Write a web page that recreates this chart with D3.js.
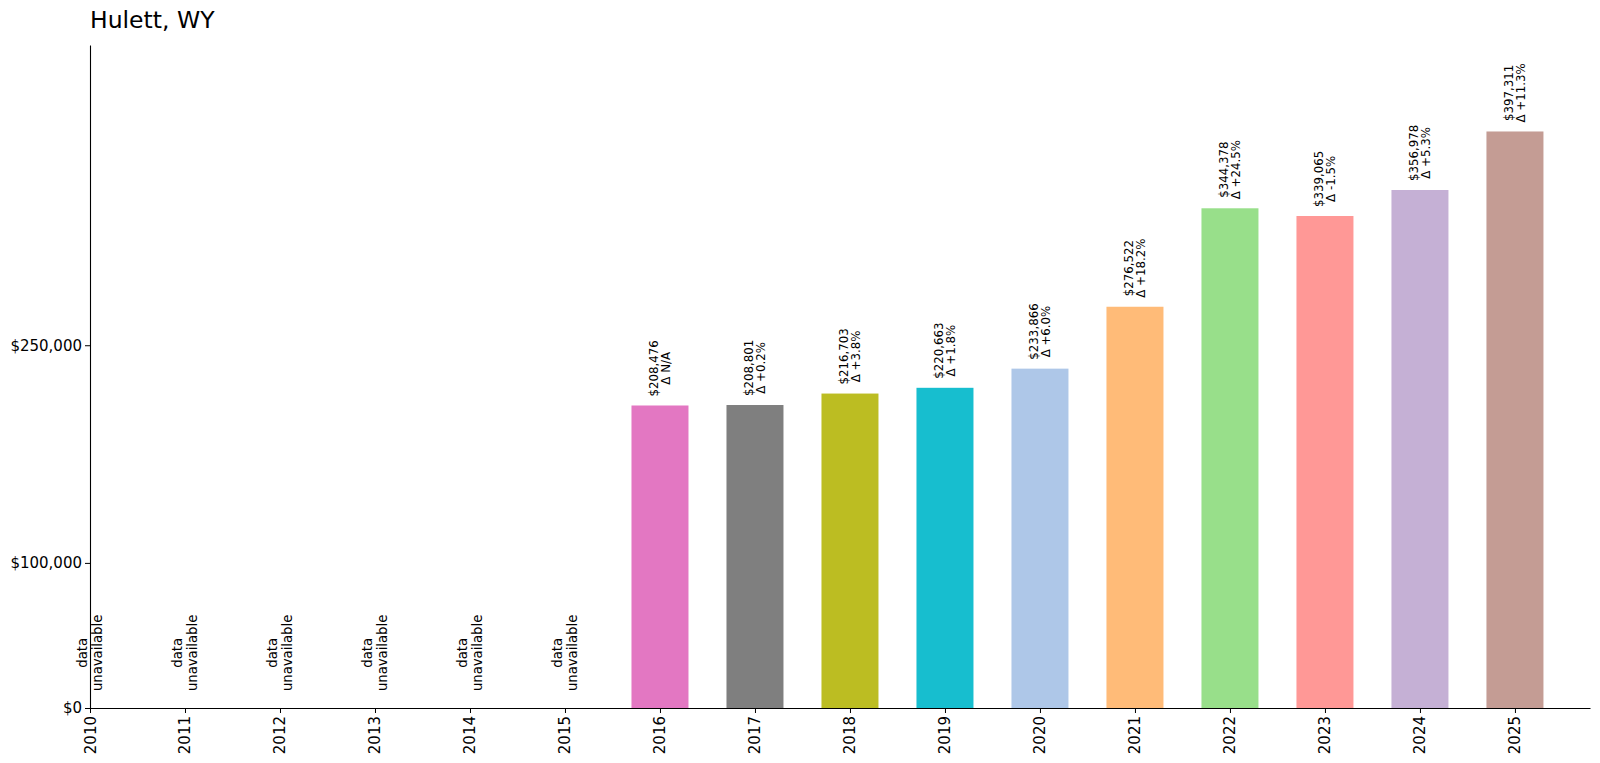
<!DOCTYPE html>
<html>
<head>
<meta charset="utf-8">
<script src="https://cdn.jsdelivr.net/npm/d3@7"></script>
<style>
  body { margin: 0; background: #fff; }
  svg { font-family: "DejaVu Sans", sans-serif; }
</style>
</head>
<body>
<svg id="chart" width="1600" height="763"></svg>
<script>
// values
const years = [2010, 2011, 2012, 2013, 2014, 2015, 2016, 2017, 2018, 2019, 2020, 2021, 2022, 2023, 2024, 2025];
const values = [null, null, null, null, null, null, 208476, 208801, 216703, 220663, 233866, 276522, 344378, 339065, 356978, 397311];
const changes = [null, null, null, null, null, null, "N/A", "+0.2%", "+3.8%", "+1.8%", "+6.0%", "+18.2%", "+24.5%", "-1.5%", "+5.3%", "+11.3%"];
const colors = ["#1f77b4", "#ff7f0e", "#2ca02c", "#d62728", "#9467bd", "#8c564b", "#e377c2", "#7f7f7f",
                "#bcbd22", "#17becf", "#aec7e8", "#ffbb78", "#98df8a", "#ff9896", "#c5b0d5", "#c49c94"];
const yTicks = [0, 100000, 250000];
const title = "Hulett, WY";

const svg = d3.select("#chart");
const margin = { left: 90, right: 10, top: 45, bottom: 55 };
const width = 1600 - margin.left - margin.right;
const height = 763 - margin.top - margin.bottom;

const g = svg.append("g").attr("transform", `translate(${margin.left},${margin.top})`);

const x = d3.scaleLinear().domain([0, 15.79]).range([0, width]);
const y = d3.scaleLinear().domain([0, d3.max(values) * 1.15]).range([height, 0]);
const barW = x(0.6) - x(0);
const fmt = d3.format(",");

// bars
g.selectAll(".bar")
  .data(years.map((yr, i) => ({ i, yr, v: values[i] })).filter(d => d.v != null))
  .enter().append("rect")
  .attr("class", "bar")
  .attr("x", d => x(d.i) - barW / 2)
  .attr("y", d => y(d.v))
  .attr("width", barW)
  .attr("height", d => height - y(d.v))
  .attr("fill", d => colors[d.i]);

// two-line rotated labels, lines centred on each other
function rotLabel(cx, bottom, lines, size, lh) {
  const t = g.append("g");
  const texts = lines.map((s, k) => t.append("text")
    .attr("font-size", size)
    .attr("text-anchor", "middle")
    .attr("dominant-baseline", "central")
    .attr("y", (k - (lines.length - 1) / 2) * lh)
    .text(s));
  const maxLen = d3.max(texts, n => n.node().getComputedTextLength());
  texts.forEach(n => n.attr("x", maxLen / 2));
  t.attr("transform", `translate(${cx},${bottom}) rotate(-90)`);
}

years.forEach((yr, i) => {
  if (values[i] == null) {
    rotLabel(x(i), height - 17, ["data", "unavailable"], 13.2, 15.5);
  } else {
    rotLabel(x(i), y(values[i]) - 9, ["$" + fmt(values[i]), "\u0394 " + changes[i]], 11.8, 12);
  }
});

// axes
const xAxis = d3.axisBottom(x).tickValues(d3.range(years.length)).tickFormat(i => years[i]).tickSize(5).tickSizeOuter(0);
const xg = g.append("g").attr("transform", `translate(0,${height})`).call(xAxis);
xg.selectAll("text")
  .attr("font-size", 15)
  .attr("transform", "rotate(-90)")
  .attr("text-anchor", "end")
  .attr("dominant-baseline", "central")
  .attr("x", -8).attr("y", 0).attr("dy", null);

const yAxis = d3.axisLeft(y).tickValues(yTicks).tickFormat(v => "$" + fmt(v)).tickSize(5).tickSizeOuter(0);
const yg = g.append("g").call(yAxis);
yg.selectAll("text").attr("font-size", 15).attr("x", -8);

[xg, yg].forEach(a => {
  a.select(".domain").attr("stroke", "#000").attr("stroke-width", 1.1);
  a.selectAll(".tick line").attr("stroke", "#000");
  a.selectAll("text").attr("fill", "#000").attr("font-family", "DejaVu Sans");
});

svg.append("text")
  .attr("x", margin.left)
  .attr("y", 28)
  .attr("font-size", 23.5)
  .attr("fill", "#000")
  .text(title);
</script>
</body>
</html>
